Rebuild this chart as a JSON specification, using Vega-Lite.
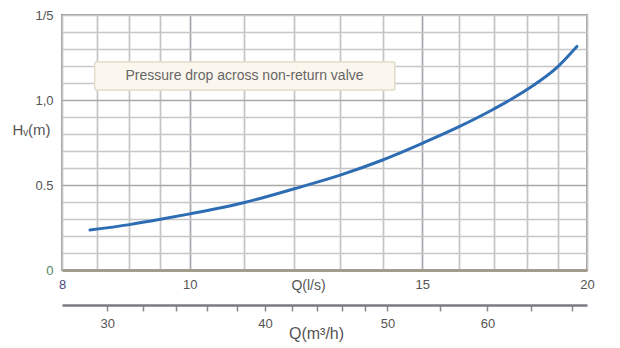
{
  "$schema": "https://vega.github.io/schema/vega-lite/v6.json",
  "width": 525,
  "height": 255,
  "autosize": {"type": "none"},
  "padding": {"left": 62, "top": 15, "right": 33, "bottom": 78},
  "background": "white",
  "config": {
    "view": {"stroke": "#9c9c9c", "strokeWidth": 2},
    "font": "Liberation Sans"
  },
  "layer": [
    {
      "encoding": {
        "x": {
          "field": "Q", "type": "quantitative",
          "scale": {"type": "log", "domain": [8, 20], "nice": false},
          "axis": {
            "orient": "bottom",
            "values": [8, 8.5, 9, 9.5, 10, 11, 12, 13, 14, 15, 16, 17, 18, 19, 20],
            "labelExpr": "datum.value == 8 || datum.value == 10 || datum.value == 15 || datum.value == 20 ? datum.value : ''",
            "labelFlush": false,
            "labelOverlap": false,
            "labelFontSize": 13,
            "labelColor": {"condition": {"test": "datum.value == 8", "value": "#4b4580"}, "value": "#555555"},
            "labelPadding": 8,
            "ticks": false,
            "tickSize": 0,
            "domainColor": "#a39c8c",
            "domainWidth": 3,
            "grid": true,
            "gridColor": {"condition": {"test": "datum.value == 10 || datum.value == 15", "value": "#a6a6ae"}, "value": "#c4c4c4"},
            "gridWidth": 1.7,
            "title": "Q(l/s)",
            "titleFontSize": 14,
            "titleFontWeight": "normal",
            "titleColor": "#555555",
            "titleX": 246,
            "titleY": 15,
            "titleAlign": "center",
            "titleBaseline": "middle"
          }
        },
        "y": {
          "field": "H", "type": "quantitative",
          "scale": {"domain": [0, 1.5], "nice": false, "zero": false},
          "axis": {
            "values": [0, 0.1, 0.2, 0.3, 0.4, 0.5, 0.6, 0.7, 0.8, 0.9, 1, 1.1, 1.2, 1.3, 1.4, 1.5],
            "labelExpr": "datum.value == 0 ? '0' : datum.value == 0.5 ? '0.5' : datum.value == 1 ? '1,0' : datum.value == 1.5 ? '1/5' : ''",
            "labelFontSize": 13,
            "labelColor": {"condition": {"test": "datum.value == 0", "value": "#4f8a60"}, "value": "#555555"},
            "labelPadding": 9,
            "labelFlush": false,
            "labelOverlap": false,
            "ticks": false,
            "tickSize": 0,
            "domain": false,
            "grid": true,
            "gridColor": {"condition": {"test": "datum.value == 0.5 || datum.value == 1", "value": "#a8a8a8"}, "value": "#c6c6c6"},
            "gridWidth": 1.7,
            "title": "Hᵥ(m)",
            "titleAngle": 0,
            "titleFontSize": 15,
            "titleFontWeight": "normal",
            "titleColor": "#555555",
            "titleX": -31,
            "titleY": 114,
            "titleAlign": "center",
            "titleBaseline": "middle"
          }
        }
      },
      "layer": [
        {
          "data": {"values": [
            {"Q": 8.4, "H": 0.235},
            {"Q": 9.0, "H": 0.267},
            {"Q": 9.5, "H": 0.298},
            {"Q": 10.0, "H": 0.33},
            {"Q": 11.0, "H": 0.397},
            {"Q": 12.0, "H": 0.478},
            {"Q": 13.0, "H": 0.558},
            {"Q": 14.0, "H": 0.647},
            {"Q": 15.0, "H": 0.745},
            {"Q": 16.0, "H": 0.843},
            {"Q": 17.0, "H": 0.947},
            {"Q": 18.0, "H": 1.06},
            {"Q": 19.0, "H": 1.195},
            {"Q": 19.65, "H": 1.315}
          ]},
          "mark": {"type": "line", "interpolate": "monotone", "color": "#2e6db4", "strokeWidth": 3, "strokeCap": "round"}
        },
        {
          "data": {"values": [
            {"Q": 8.47, "Q2": 14.3, "H": 1.224, "H2": 1.059}
          ]},
          "mark": {"type": "rect", "fill": "#fcf7ee", "stroke": "#e2dbcd", "strokeWidth": 1.5, "cornerRadius": 2},
          "encoding": {
            "x2": {"field": "Q2"},
            "y2": {"field": "H2"}
          }
        },
        {
          "data": {"values": [
            {"Q": 11.0, "H": 1.141, "label": "Pressure drop across non-return valve"}
          ]},
          "mark": {"type": "text", "fontSize": 14, "color": "#666666", "align": "center", "baseline": "middle"},
          "encoding": {
            "text": {"field": "label"}
          }
        }
      ]
    },
    {
      "data": {"values": [
        {"m3h": 30}, {"m3h": 40}, {"m3h": 50}, {"m3h": 60}, {"m3h": 70}
      ]},
      "mark": {"type": "point", "opacity": 0},
      "encoding": {
        "x": {
          "field": "m3h", "type": "quantitative",
          "scale": {"type": "log", "domain": [27.63, 71.93], "nice": false},
          "axis": {
            "orient": "bottom",
            "offset": 35,
            "values": [30, 32, 34, 36, 38, 40, 42, 44, 46, 48, 50, 55, 60, 65, 70],
            "labelExpr": "datum.value == 30 || datum.value == 40 || datum.value == 50 || datum.value == 60 ? datum.value : ''",
            "labelFlush": false,
            "labelOverlap": false,
            "labelFontSize": 13,
            "labelColor": "#555555",
            "labelPadding": 6,
            "ticks": true,
            "tickSize": 6,
            "tickWidth": 1.5,
            "tickColor": "#8a8a8a",
            "domainColor": "#7a7a86",
            "domainWidth": 2.5,
            "grid": false,
            "title": "Q(m³/h)",
            "titleFontSize": 16,
            "titleFontWeight": "normal",
            "titleColor": "#555555",
            "titleX": 254,
            "titleY": 28,
            "titleAlign": "center",
            "titleBaseline": "middle"
          }
        }
      }
    }
  ],
  "resolve": {"scale": {"x": "independent"}, "axis": {"x": "independent"}}
}
